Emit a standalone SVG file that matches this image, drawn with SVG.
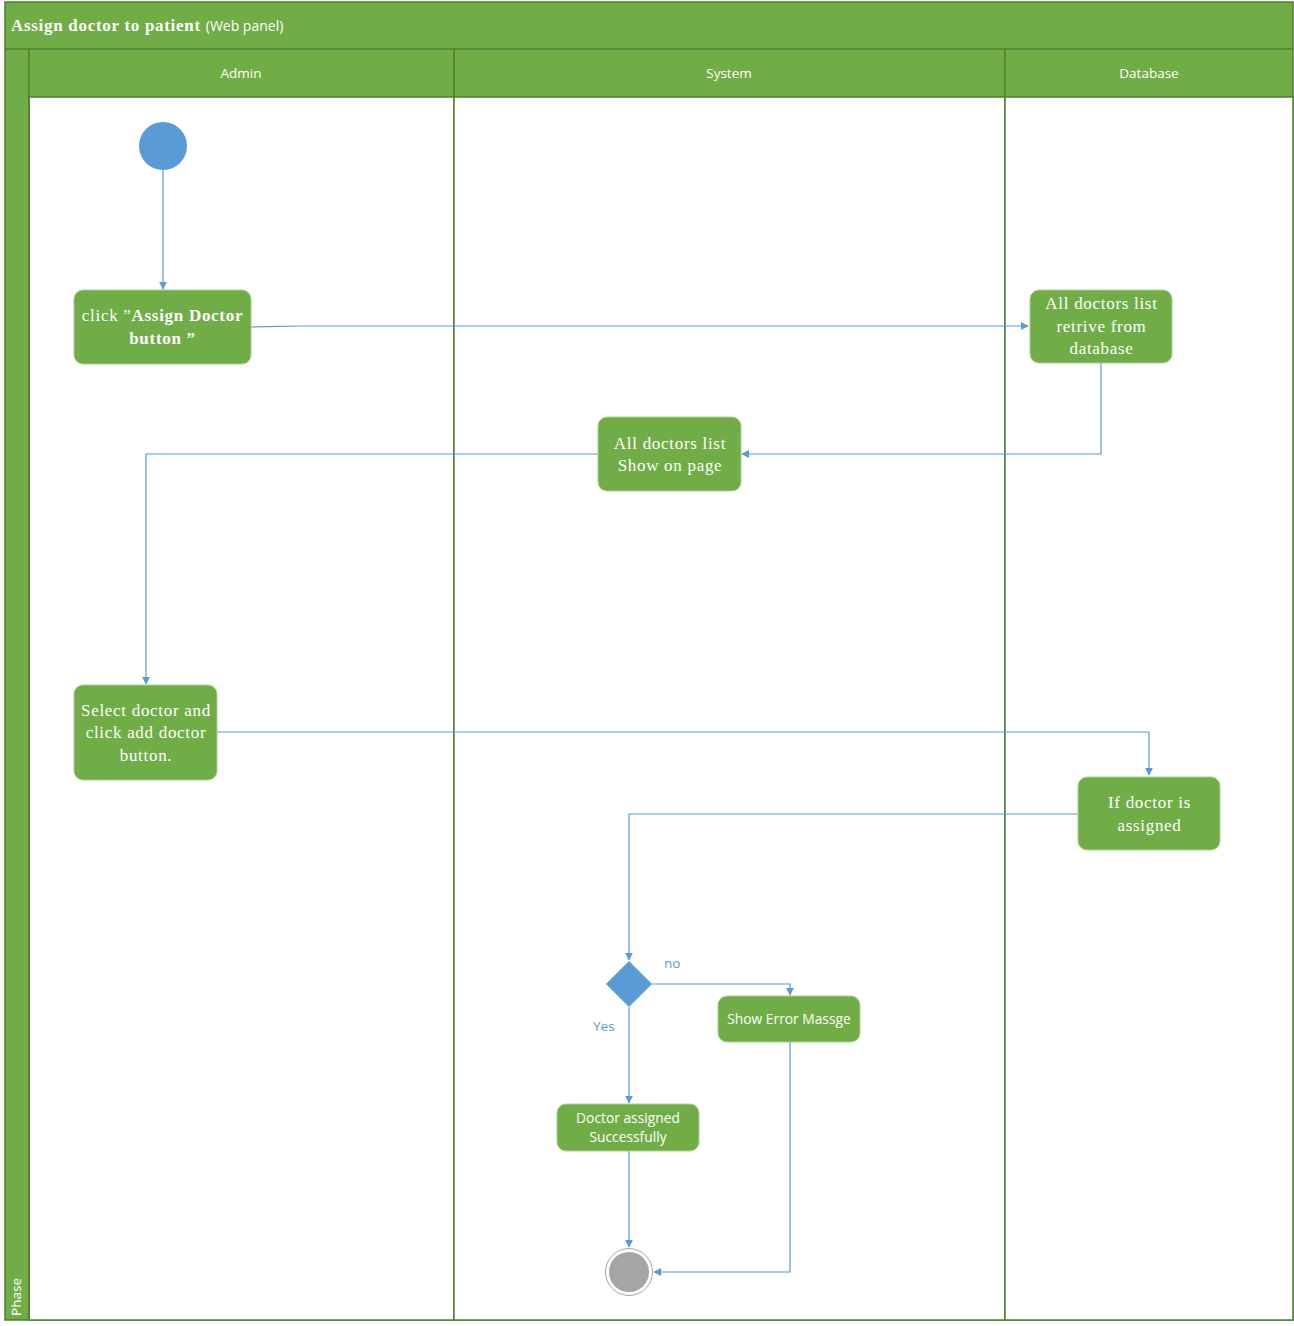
<svg xmlns="http://www.w3.org/2000/svg" width="1294" height="1326" viewBox="0 0 1294 1326">
  <defs>
    <marker id="arrow" viewBox="0 0 10 10" refX="9" refY="5" markerWidth="8" markerHeight="8" markerUnits="userSpaceOnUse" orient="auto">
      <path d="M0,0 L10,5 L0,10 z" fill="#5B9BD5"/>
    </marker>
    <style>
      .band { fill: #70AD47; stroke: #507E32; stroke-width: 1.5; }
      .lane { fill: #FFFFFF; stroke: #507E32; stroke-width: 1.5; }
      .act { fill: #70AD47; stroke: #A9D18E; stroke-width: 1; }
      .serif { font-family: "Liberation Serif", "Times New Roman", serif; fill: #FFFFFF; font-size: 17px; letter-spacing: 0.7px; text-anchor: middle; }
      .sans { font-family: "Open Sans", "Noto Sans", sans-serif; fill: #FFFFFF; font-size: 13.8px; text-anchor: middle; }
      .hdr { font-family: "Open Sans", "Noto Sans", sans-serif; fill: #FFFFFF; font-size: 13.5px; text-anchor: middle; }
      .lbl { font-family: "Open Sans", "Noto Sans", sans-serif; fill: #5B9BD5; font-size: 13.5px; }
      .conn { fill: none; stroke: #5B9BD5; stroke-width: 1.2; marker-end: url(#arrow); }
    </style>
  </defs>

  <!-- pool frame -->
  <g id="pool">
    <rect class="band" x="5" y="2" width="1288" height="1318"/>
    <rect class="lane" x="29" y="97" width="425" height="1223"/>
    <rect class="lane" x="454" y="97" width="551" height="1223"/>
    <rect class="lane" x="1005" y="97" width="288" height="1223"/>
    <line x1="5" y1="49" x2="1293" y2="49" stroke="#507E32" stroke-width="1.5"/>
    <line x1="29" y1="49" x2="29" y2="1320" stroke="#507E32" stroke-width="1.5"/>
    <line x1="454" y1="49" x2="454" y2="97" stroke="#507E32" stroke-width="1.5"/>
    <line x1="1005" y1="49" x2="1005" y2="97" stroke="#507E32" stroke-width="1.5"/>
    <text x="11" y="31" font-family="Liberation Serif, serif" font-weight="bold" font-size="17" letter-spacing="0.7" fill="#FFFFFF">Assign doctor to patient <tspan font-family="Open Sans, Noto Sans, sans-serif" font-weight="normal" font-size="14" letter-spacing="0">(Web panel)</tspan></text>
    <text class="hdr" x="241" y="78">Admin</text>
    <text class="hdr" x="729" y="78">System</text>
    <text class="hdr" x="1149" y="78">Database</text>
    <text class="hdr" x="0" y="0" transform="translate(21,1297) rotate(-90)">Phase</text>
  </g>

  <!-- connectors -->
  <g id="connectors">
    <path class="conn" d="M163,170 L163,289"/>
    <path class="conn" d="M251,327 L300,326 L1028,326"/>
    <path class="conn" d="M1101,363 L1101,454 L742,454"/>
    <path class="conn" d="M598,454 L146,454 L146,684"/>
    <path class="conn" d="M217,732 L1149,732 L1149,775"/>
    <path class="conn" d="M1078,814 L629,814 L629,960"/>
    <path class="conn" d="M652,984 L790,984 L790,995"/>
    <path class="conn" d="M629,1007 L629,1103"/>
    <path class="conn" d="M629,1151 L629,1247"/>
    <path class="conn" d="M790,1042 L790,1272 L654,1272"/>
    <text class="lbl" x="664" y="968">no</text>
    <text class="lbl" x="593" y="1031">Yes</text>
  </g>

  <g id="start">
    <circle cx="163" cy="146" r="24" fill="#5B9BD5"/>
  </g>

  <g id="click-assign">
    <rect class="act" x="74" y="290" width="177" height="74" rx="9"/>
    <text class="serif" x="162.5" y="321"><tspan>click ”</tspan><tspan font-weight="bold">Assign Doctor</tspan></text>
    <text class="serif" x="162.5" y="344" font-weight="bold">button ”</text>
  </g>

  <g id="retrieve-list">
    <rect class="act" x="1030" y="290" width="142" height="73" rx="9"/>
    <text class="serif" x="1101.5" y="309">All doctors list</text>
    <text class="serif" x="1101.5" y="332">retrive from</text>
    <text class="serif" x="1101.5" y="354">database</text>
  </g>

  <g id="show-list">
    <rect class="act" x="598" y="417" width="143" height="74" rx="9"/>
    <text class="serif" x="670" y="449">All doctors list</text>
    <text class="serif" x="670" y="471">Show on page</text>
  </g>

  <g id="select-doctor">
    <rect class="act" x="74" y="685" width="143" height="95" rx="9"/>
    <text class="serif" x="146" y="716">Select doctor and</text>
    <text class="serif" x="146" y="738">click add doctor</text>
    <text class="serif" x="146" y="761">button.</text>
  </g>

  <g id="if-assigned">
    <rect class="act" x="1078" y="777" width="142" height="73" rx="9"/>
    <text class="serif" x="1149.5" y="808">If doctor is</text>
    <text class="serif" x="1149.5" y="831">assigned</text>
  </g>

  <g id="decision">
    <polygon points="629,961 652,984 629,1007 606,984" fill="#5B9BD5"/>
  </g>

  <g id="show-error">
    <rect class="act" x="718" y="996" width="142" height="46" rx="9"/>
    <text class="sans" x="789" y="1024">Show Error Massge</text>
  </g>

  <g id="assigned-ok">
    <rect class="act" x="557" y="1104" width="142" height="47" rx="9"/>
    <text class="sans" x="628" y="1123">Doctor assigned</text>
    <text class="sans" x="628" y="1142">Successfully</text>
  </g>

  <g id="end">
    <circle cx="629" cy="1272" r="23.5" fill="#FFFFFF" stroke="#A5A5A5" stroke-width="1"/>
    <circle cx="629" cy="1272" r="20" fill="#A5A5A5"/>
  </g>
</svg>
